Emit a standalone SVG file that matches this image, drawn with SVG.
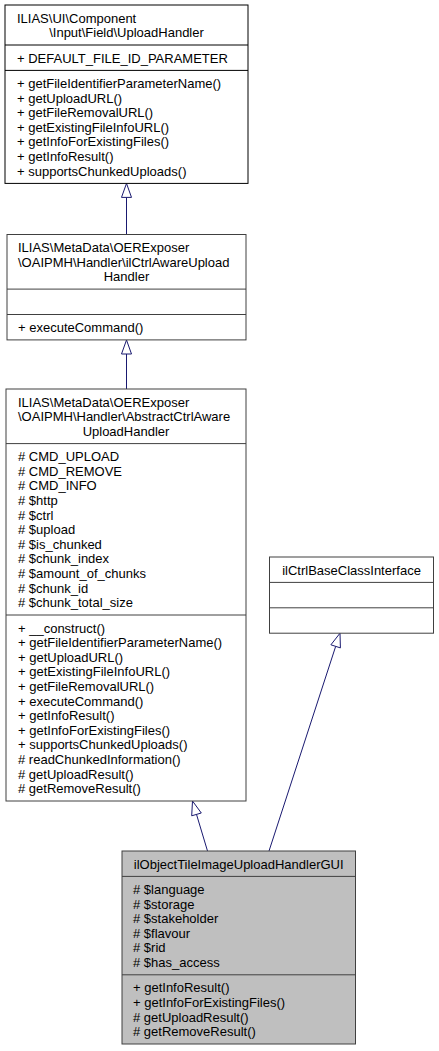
<svg xmlns="http://www.w3.org/2000/svg" width="439" height="1051" viewBox="0 0 439 1051">
<style>
text{font-family:"Liberation Sans",Arial,Helvetica,sans-serif;font-size:13px;fill:#000}
.c{text-anchor:middle}
.box{fill:#fff;stroke:#000;stroke-width:1}
.box2{fill:#fff;stroke:#404040;stroke-width:1}
.cur{fill:#bfbfbf;stroke:#404040;stroke-width:1}
.div{stroke:#000;stroke-width:1}
.div2{stroke:#404040;stroke-width:1}
.edge{stroke:#191970;stroke-width:1;fill:none}
.head{stroke:#191970;stroke-width:1;fill:#fff}
</style>
<rect width="439" height="1051" fill="#fff"/>
<g id="connectors">
<line class="edge" x1="126.5" y1="197.4" x2="126.5" y2="234.5"/>
<polygon class="head" points="126.5,183.4 131.5,197.4 121.5,197.4"/>
<line class="edge" x1="126.5" y1="354" x2="126.5" y2="389"/>
<polygon class="head" points="126.5,340 131.5,354 121.5,354"/>
<line class="edge" x1="196.5" y1="814.4" x2="207.5" y2="851"/>
<polygon class="head" points="192.5,801 201.3,813 191.7,815.8"/>
<line class="edge" x1="335.7" y1="646.3" x2="269" y2="851"/>
<polygon class="head" points="340,633.2 340.4,647.9 330.9,644.8"/>
</g>
<g id="node_UploadHandler">
<rect class="box" x="5" y="5" width="243" height="178.4"/>
<line class="div" x1="5" y1="45" x2="248" y2="45"/>
<line class="div" x1="5" y1="70.4" x2="248" y2="70.4"/>
<text x="17" y="22.5">ILIAS\UI\Component</text>
<text class="c" x="126.5" y="37.1">\Input\Field\UploadHandler</text>
<text x="17" y="62.5">+ DEFAULT_FILE_ID_PARAMETER</text>
<text x="17" y="87.9">+ getFileIdentifierParameterName()</text>
<text x="17" y="102.5">+ getUploadURL()</text>
<text x="17" y="117.1">+ getFileRemovalURL()</text>
<text x="17" y="131.7">+ getExistingFileInfoURL()</text>
<text x="17" y="146.3">+ getInfoForExistingFiles()</text>
<text x="17" y="160.9">+ getInfoResult()</text>
<text x="17" y="175.5">+ supportsChunkedUploads()</text>
</g>
<g id="node_ilCtrlAwareUploadHandler">
<rect class="box2" x="7" y="234.5" width="239" height="105.4"/>
<line class="div2" x1="7" y1="289.1" x2="246" y2="289.1"/>
<line class="div2" x1="7" y1="314.5" x2="246" y2="314.5"/>
<text x="18" y="252">ILIAS\MetaData\OERExposer</text>
<text x="18" y="266.6">\OAIPMH\Handler\ilCtrlAwareUpload</text>
<text class="c" x="126.5" y="281.2">Handler</text>
<text x="18" y="332">+ executeCommand()</text>
</g>
<g id="node_AbstractCtrlAwareUploadHandler">
<rect class="box2" x="6" y="389" width="240" height="412"/>
<line class="div2" x1="6" y1="443.6" x2="246" y2="443.6"/>
<line class="div2" x1="6" y1="615" x2="246" y2="615"/>
<text x="18" y="406.5">ILIAS\MetaData\OERExposer</text>
<text x="18" y="421.1">\OAIPMH\Handler\AbstractCtrlAware</text>
<text class="c" x="126" y="435.7">UploadHandler</text>
<text x="18" y="461.1"># CMD_UPLOAD</text>
<text x="18" y="475.7"># CMD_REMOVE</text>
<text x="18" y="490.3"># CMD_INFO</text>
<text x="18" y="504.9"># $http</text>
<text x="18" y="519.5"># $ctrl</text>
<text x="18" y="534.1"># $upload</text>
<text x="18" y="548.7"># $is_chunked</text>
<text x="18" y="563.3"># $chunk_index</text>
<text x="18" y="577.9"># $amount_of_chunks</text>
<text x="18" y="592.5"># $chunk_id</text>
<text x="18" y="607.1"># $chunk_total_size</text>
<text x="18" y="632.5">+ __construct()</text>
<text x="18" y="647.1">+ getFileIdentifierParameterName()</text>
<text x="18" y="661.7">+ getUploadURL()</text>
<text x="18" y="676.3">+ getExistingFileInfoURL()</text>
<text x="18" y="690.9">+ getFileRemovalURL()</text>
<text x="18" y="705.5">+ executeCommand()</text>
<text x="18" y="720.1">+ getInfoResult()</text>
<text x="18" y="734.7">+ getInfoForExistingFiles()</text>
<text x="18" y="749.3">+ supportsChunkedUploads()</text>
<text x="18" y="763.9"># readChunkedInformation()</text>
<text x="18" y="778.5"># getUploadResult()</text>
<text x="18" y="793.1"># getRemoveResult()</text>
</g>
<g id="node_ilCtrlBaseClassInterface">
<rect class="box2" x="269.5" y="557" width="164" height="76.2"/>
<line class="div2" x1="269.5" y1="582.4" x2="433.5" y2="582.4"/>
<line class="div2" x1="269.5" y1="607.8" x2="433.5" y2="607.8"/>
<text class="c" x="351.5" y="574.5">ilCtrlBaseClassInterface</text>
</g>
<g id="node_ilObjectTileImageUploadHandlerGUI">
<rect class="cur" x="122" y="851" width="233.5" height="193"/>
<line class="div2" x1="122" y1="876.4" x2="355.5" y2="876.4"/>
<line class="div2" x1="122" y1="974.8" x2="355.5" y2="974.8"/>
<text class="c" x="238.7" y="868.5">ilObjectTileImageUploadHandlerGUI</text>
<text x="133" y="893.9"># $language</text>
<text x="133" y="908.5"># $storage</text>
<text x="133" y="923.1"># $stakeholder</text>
<text x="133" y="937.7"># $flavour</text>
<text x="133" y="952.3"># $rid</text>
<text x="133" y="966.9"># $has_access</text>
<text x="133" y="992.3">+ getInfoResult()</text>
<text x="133" y="1006.9">+ getInfoForExistingFiles()</text>
<text x="133" y="1021.5"># getUploadResult()</text>
<text x="133" y="1036.1"># getRemoveResult()</text>
</g>
</svg>
